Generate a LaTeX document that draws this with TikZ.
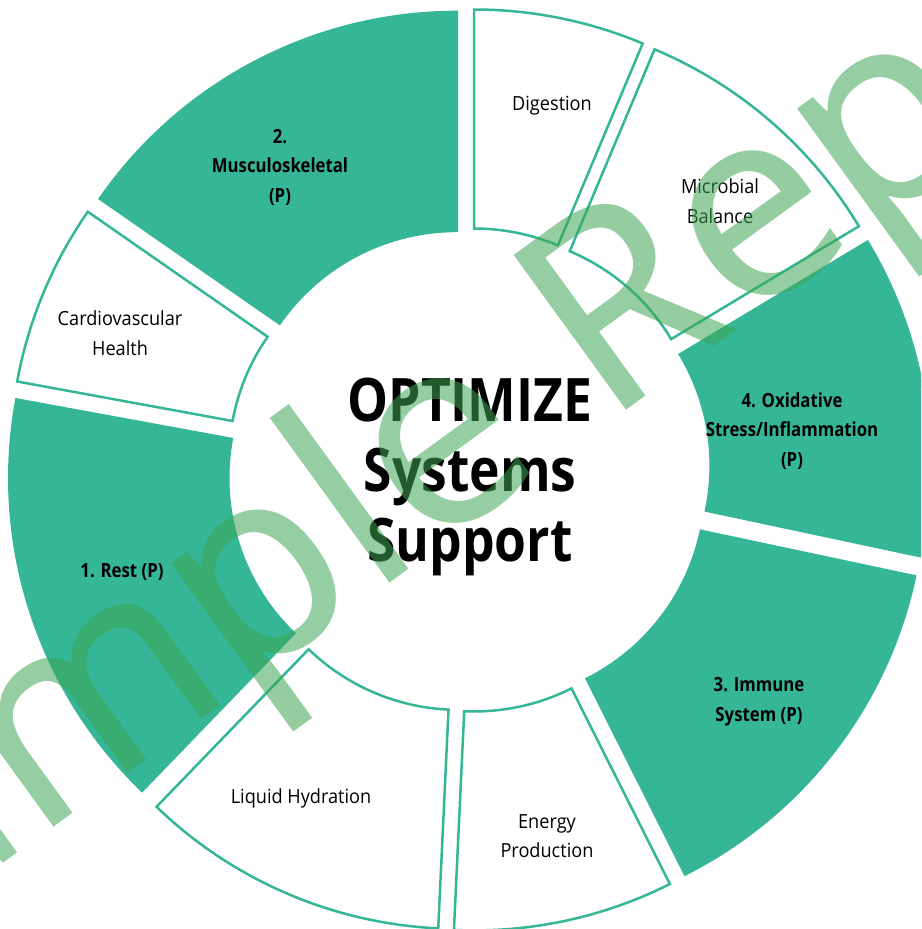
\documentclass[tikz,border=0pt]{standalone}
\usepackage{fontspec}
\setmainfont{Open Sans}[FakeStretch=0.93]
\newfontfamily\heavyfont{Open Sans}[FakeStretch=0.86]
\newfontfamily\markfont{Noto Sans}
\definecolor{chartteal}{HTML}{34B697}
\definecolor{markgreen}{RGB}{62,165,85}

\begin{document}
\begin{tikzpicture}[x=1pt, y=1pt,
		seg_full/.style={fill=chartteal,draw=chartteal,line width=2.5pt},
		seg_open/.style={fill=white,draw=chartteal,line width=2.5pt},
		label_bold/.style={align=center,font=\heavyfont\bfseries\fontsize{19.5}{29.5}\selectfont},
		label_plain/.style={align=center,font=\fontsize{19.5}{29.5}\selectfont},
		mark_style/.style={text=markgreen,text opacity=0.55,font=\markfont\fontsize{268}{268}\selectfont}]

	\useasboundingbox (0,0) rectangle (921,929);
	\clip (0,0) rectangle (921,929);

	% ring segments, each pushed out along its middle angle
	\begin{scope}[shift={(469,459)}]
		\draw[seg_open, shift={(78.6:26)}] (90:216) -- (90:435) arc[start angle=90, end angle=67.2, radius=435] -- (67.2:216) arc[start angle=67.2, end angle=90, radius=216] -- cycle;
		\draw[seg_open, shift={(49.1:26)}] (67.2:216) -- (67.2:435) arc[start angle=67.2, end angle=31, radius=435] -- (31:216) arc[start angle=31, end angle=67.2, radius=216] -- cycle;
		\draw[seg_full, shift={(9.5:26)}] (31:216) -- (31:435) arc[start angle=31, end angle=-12, radius=435] -- (-12:216) arc[start angle=-12, end angle=31, radius=216] -- cycle;
		\draw[seg_full, shift={(-37.65:26)}] (-12:216) -- (-12:435) arc[start angle=-12, end angle=-63.3, radius=435] -- (-63.3:216) arc[start angle=-63.3, end angle=-12, radius=216] -- cycle;
		\draw[seg_open, shift={(-78:26)}] (-63.3:216) -- (-63.3:435) arc[start angle=-63.3, end angle=-92.7, radius=435] -- (-92.7:216) arc[start angle=-92.7, end angle=-63.3, radius=216] -- cycle;
		\draw[seg_open, shift={(-113.35:26)}] (-92.7:216) -- (-92.7:435) arc[start angle=-92.7, end angle=-134, radius=435] -- (-134:216) arc[start angle=-134, end angle=-92.7, radius=216] -- cycle;
		\draw[seg_full, shift={(-162.2:26)}] (-134:216) -- (-134:435) arc[start angle=-134, end angle=-190.4, radius=435] -- (-190.4:216) arc[start angle=-190.4, end angle=-134, radius=216] -- cycle;
		\draw[seg_open, shift={(157.4:26)}] (169.6:216) -- (169.6:435) arc[start angle=169.6, end angle=145.2, radius=435] -- (145.2:216) arc[start angle=145.2, end angle=169.6, radius=216] -- cycle;
		\draw[seg_full, shift={(117.6:26)}] (145.2:216) -- (145.2:435) arc[start angle=145.2, end angle=90, radius=435] -- (90:216) arc[start angle=90, end angle=145.2, radius=216] -- cycle;
	\end{scope}

	% segment labels
	\node[label_plain] (digestion) at (552,823) {Digestion};
	\node[label_plain] (microbial) at (720,728) {Microbial\\Balance};
	\node[label_bold] (oxidative) at (792,498) {4. Oxidative\\Stress/Inflammation\\(P)};
	\node[label_bold] (immune) at (759,227) {3. Immune\\System (P)};
	\node[label_plain] (energy) at (547,93) {Energy\\Production};
	\node[label_plain] (hydration) at (301,131) {Liquid Hydration};
	\node[label_bold] (rest) at (122,357) {1. Rest (P)};
	\node[label_plain] (cardio) at (120,596) {Cardiovascular\\Health};
	\node[label_bold] (musculo) at (280,762) {2.\\Musculoskeletal\\(P)};

	\node[align=center, font=\heavyfont\bfseries\fontsize{60}{70}\selectfont] (center_text) at (470,452) {OPTIMIZE\\Systems\\Support};

	% watermark over everything
	\node[mark_style, rotate=36, anchor=base] (watermark) at (545,459) {Sample Report};
\end{tikzpicture}
\end{document}
